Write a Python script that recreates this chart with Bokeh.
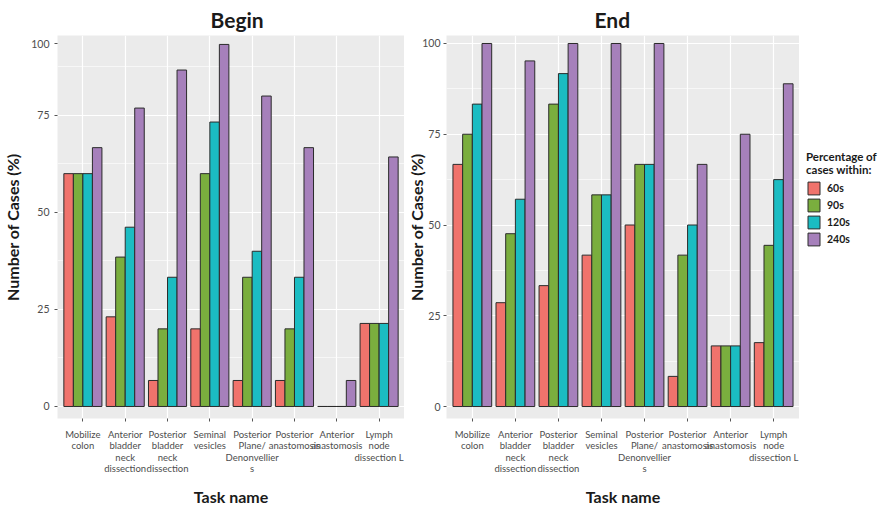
from bokeh.plotting import figure
from bokeh.layouts import row
from bokeh.models import ColumnDataSource, Range1d, FixedTicker, Legend, LegendItem
from bokeh.transform import dodge
from bokeh.embed import file_html
from bokeh.resources import INLINE

# ---- data -------------------------------------------------------------
task_labels = [
    "Mobilize\ncolon",
    "Anterior\nbladder\nneck\ndissection",
    "Posterior\nbladder\nneck\ndissection",
    "Seminal\nvesicles",
    "Posterior\nPlane/\nDenonvellier\ns",
    "Posterior\nanastomosis",
    "Anterior\nanastomosis",
    "Lymph\nnode\ndissection L",
]
durations = ["60s", "90s", "120s", "240s"]

begin_60s = [60.0, 23.1, 6.7, 20.0, 6.7, 6.7, 0.0, 21.4]
begin_90s = [60.0, 38.5, 20.0, 60.0, 33.3, 20.0, 0.0, 21.4]
begin_120s = [60.0, 46.2, 33.3, 73.3, 40.0, 33.3, 0.0, 21.4]
begin_240s = [66.7, 76.9, 86.7, 93.3, 80.0, 66.7, 6.7, 64.3]

end_60s = [66.7, 28.6, 33.3, 41.7, 50.0, 8.3, 16.7, 17.6]
end_90s = [75.0, 47.6, 83.3, 58.3, 66.7, 41.7, 16.7, 44.4]
end_120s = [83.3, 57.1, 91.7, 58.3, 66.7, 50.0, 16.7, 62.5]
end_240s = [100.0, 95.2, 100.0, 100.0, 100.0, 66.7, 75.0, 88.9]

begin_ytick_pos = [0, 25, 50, 75, 93.5]
begin_ytick_text = ["0", "25", "50", "75", "100"]
end_ytick_pos = [0, 25, 50, 75, 100]
end_ytick_text = ["0", "25", "50", "75", "100"]

# ---- style --------------------------------------------------------------
COLORS = ["#F0736C", "#7AAE3E", "#1BBCC2", "#A680BB"]
FONT = "Lato"
PANEL_BG = "#EBEBEB"
BAR_LINE = "#2b2b2b"
BAR_W = 0.225
OFFSETS = [-1.5 * BAR_W, -0.5 * BAR_W, 0.5 * BAR_W, 1.5 * BAR_W]
positions = list(range(1, len(task_labels) + 1))
BORDER_TOP, BORDER_BOTTOM = 32, 92


def panel(title, series, ytick_pos, ytick_text, y_range, width, left,
          title_offset, ylab_standoff, ytitle_standoff):
    p = figure(width=width, height=510, output_backend="svg", toolbar_location=None,
               x_range=Range1d(0.4, len(task_labels) + 0.6), y_range=Range1d(*y_range),
               min_border_left=left, min_border_right=0,
               min_border_top=BORDER_TOP, min_border_bottom=BORDER_BOTTOM)
    p.background_fill_color = PANEL_BG
    p.border_fill_color = "white"
    p.outline_line_color = None

    data = {"x": positions}
    for d, vals in zip(durations, series):
        data[d] = vals
    src = ColumnDataSource(data)
    for d, off, c in zip(durations, OFFSETS, COLORS):
        p.vbar(x=dodge("x", off), top=d, bottom=0, width=BAR_W, source=src,
               fill_color=c, line_color=BAR_LINE, line_width=1)

    # title
    p.title.text = title
    p.title.text_font = FONT
    p.title.text_font_size = "21px"
    p.title.text_font_style = "bold"
    p.title.text_color = "#1A1A1A"
    p.title.text_line_height = 1.0
    p.title.align = "left"
    p.title.vertical_align = "bottom"
    p.title.offset = title_offset
    p.title.standoff = 8

    # x axis
    xa = p.xaxis[0]
    xa.ticker = FixedTicker(ticks=positions)
    xa.major_label_overrides = {i: t for i, t in zip(positions, task_labels)}
    xa.major_label_text_font = FONT
    xa.major_label_text_font_size = "9.5px"
    xa.major_label_text_line_height = 1.05
    xa.major_label_text_color = "#4D4D4D"
    xa.major_label_standoff = 7
    xa.axis_label = "Task name"
    xa.axis_label_text_font = FONT
    xa.axis_label_text_font_size = "16px"
    xa.axis_label_text_font_style = "bold"
    xa.axis_label_text_color = "#1A1A1A"
    xa.axis_label_text_line_height = 1.0
    xa.axis_label_standoff = 10
    xa.axis_line_color = None
    xa.major_tick_in = 0
    xa.major_tick_out = 3
    xa.major_tick_line_color = "#555555"
    xa.minor_tick_line_color = None

    # y axis
    ya = p.yaxis[0]
    ya.ticker = FixedTicker(ticks=ytick_pos)
    ya.major_label_overrides = {v: t for v, t in zip(ytick_pos, ytick_text)}
    ya.major_label_text_font = FONT
    ya.major_label_text_font_size = "10.5px"
    ya.major_label_text_color = "#4D4D4D"
    ya.major_label_standoff = ylab_standoff
    ya.axis_label = "Number of Cases (%)"
    ya.axis_label_text_font = FONT
    ya.axis_label_text_font_size = "16px"
    ya.axis_label_text_font_style = "bold"
    ya.axis_label_text_color = "#1A1A1A"
    ya.axis_label_text_line_height = 1.0
    ya.axis_label_standoff = ytitle_standoff
    ya.axis_line_color = None
    ya.major_tick_in = 0
    ya.major_tick_out = 3
    ya.major_tick_line_color = "#555555"
    ya.minor_tick_line_color = None

    # grid
    p.xgrid.ticker = FixedTicker(ticks=positions)
    p.xgrid.grid_line_color = "white"
    p.xgrid.grid_line_width = 1.2
    p.ygrid.ticker = FixedTicker(ticks=[0, 25, 50, 75, 100],
                                 minor_ticks=[12.5, 37.5, 62.5, 87.5])
    p.ygrid.grid_line_color = "white"
    p.ygrid.grid_line_width = 1.2
    p.ygrid.minor_grid_line_color = "white"
    p.ygrid.minor_grid_line_width = 0.6
    return p


p_begin = panel("Begin", [begin_60s, begin_90s, begin_120s, begin_240s],
                begin_ytick_pos, begin_ytick_text, (-3.1, 95.6), 404, 57,
                153, 5, 6)
p_end = panel("End", [end_60s, end_90s, end_120s, end_240s],
              end_ytick_pos, end_ytick_text, (-3.3, 102.2), 395, 42,
              148, 3, -7)

# legend strip on the right; its hidden swatch renderers only supply the key styles
p_leg = figure(width=85, height=510, output_backend="svg", toolbar_location=None,
               x_range=Range1d(0, 1), y_range=Range1d(0, 1),
               x_axis_type=None, y_axis_type=None,
               min_border_left=0, min_border_right=0,
               min_border_top=BORDER_TOP, min_border_bottom=BORDER_BOTTOM)
p_leg.outline_line_color = None
p_leg.grid.visible = False
swatch_src = ColumnDataSource({"x": [0.5], "top": [0.0]})
swatches = [p_leg.vbar(x="x", top="top", bottom=0, width=1, source=swatch_src,
                       fill_color=c, line_color=BAR_LINE, line_width=1, visible=False)
            for c in COLORS]

legend = Legend(
    items=[LegendItem(label=d, renderers=[r]) for d, r in zip(durations, swatches)],
    location=(7, 171),
    title="Percentage of\ncases within:",
    title_text_font=FONT, title_text_font_size="11.5px", title_text_font_style="bold",
    title_text_color="#1A1A1A", title_text_line_height=1.48, title_standoff=4,
    label_text_font=FONT, label_text_font_size="10.5px", label_text_font_style="bold",
    label_text_color="#1A1A1A",
    glyph_width=15, glyph_height=16, label_height=16, label_standoff=6,
    spacing=1, padding=5, margin=0,
    inactive_fill_alpha=0,
    border_line_color=None, background_fill_alpha=0,
)
p_leg.add_layout(legend, "center")

layout = row(p_begin, p_end, p_leg)
open("out.html", "w").write(file_html(layout, INLINE))
